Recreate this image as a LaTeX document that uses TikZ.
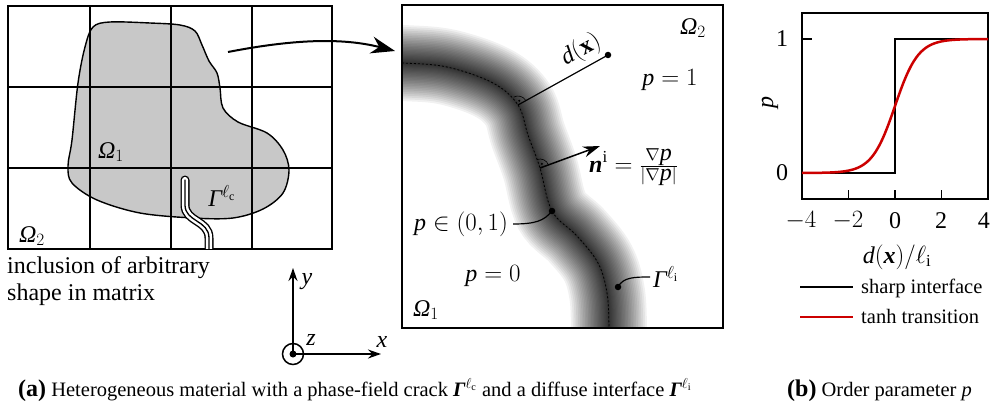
\documentclass[tikz,border=0pt]{standalone}
\usepackage{fontspec}
\setmainfont{Liberation Serif}
\usetikzlibrary{arrows.meta}
\newcommand{\ivar}[1]{\mbox{\itshape #1}}
\newcommand{\bivar}[1]{\mbox{\bfseries\itshape #1}}
\definecolor{blobgray}{RGB}{200,200,200}
\definecolor{plotred}{RGB}{204,0,0}
\begin{document}
\begin{tikzpicture}[x=1pt,y=-1pt,
  lbl/.style={font=\rmfamily\fontsize{24}{27}\selectfont, inner sep=0pt},
  captext/.style={font=\rmfamily\fontsize{20.5}{24}\selectfont, inner sep=0pt},
  gridline/.style={line width=2pt},
  thin connector/.style={line width=1.2pt},
  bigarrow/.style={line width=2pt, -{Stealth[length=24pt,width=17pt]}},
  axisarrow/.style={line width=1.5pt, -{Stealth[length=13pt,width=9pt]}},
  dotmark/.style={fill=black, circle, inner sep=0pt, minimum size=6.5pt},
]
\useasboundingbox (0,0) rectangle (992,409);

% ---------------- left panel ----------------
\def\blob{plot[smooth cycle, tension=0.55] coordinates {(93,27) (110,22) (150,23) (180,25) (195,31) (202,45) (209,61) (217,73) (220,88) (223,108) (238,122) (267,133) (283,150) (289,170) (283,193) (263,209) (233,218) (193,218) (140,213) (97,200) (72,183) (68,166) (72,140) (78,83) (85,47)}}
\fill[blobgray] \blob;
\foreach \gx in {90,171,252} \draw[gridline] (\gx,6) -- (\gx,249);
\foreach \gy in {87,168} \draw[gridline] (8,\gy) -- (332,\gy);
\draw[gridline] (8,6) rectangle (332,249);
\draw[line width=1.4pt] \blob;
% crack
\begin{scope}
\clip (0,0) rectangle (340,248);
\def\crack{(185,180) -- (185,205) .. controls (185,222) and (209,220) .. (209,238) -- (209,262)}
\draw[line width=9pt, line cap=round] \crack;
\draw[line width=6.2pt, white, line cap=round] \crack;
\draw[line width=1.3pt, line cap=round] \crack;
\end{scope}
\node[lbl] (om1) at (111,152) {$\ivar{Ω}_1$};
\node[lbl] (om2) at (32,236) {$\ivar{Ω}_2$};
\node[lbl] (gc) at (222,196) {$\ivar{Γ}^{\ell_{\mathrm{c}}}$};
\node[lbl, anchor=base west] (incl1) at (7,273) {inclusion of arbitrary};
\node[lbl, anchor=base west] (incl2) at (7,300) {shape in matrix};

% curved arrow to zoom
\coordinate (arrS) at (228,52);
\coordinate (arrE) at (395,51);
\draw[bigarrow] (arrS) .. controls (290,40) and (340,37) .. (arrE);

% coordinate axes
\coordinate (O) at (293,354);
\coordinate (Ytip) at (293,268);
\coordinate (Xtip) at (381,354);
\draw[axisarrow] (O) -- (Ytip);
\draw[axisarrow] (O) -- (Xtip);
\draw[line width=1.5pt] (O) circle (10.5pt);
\fill (O) circle (3.5pt);
\node[lbl] (ylab) at (307,282) {\ivar{y}};
\node[lbl] (zlab) at (311,340) {\ivar{z}};
\node[lbl] (xlab) at (382,342) {\ivar{x}};

% ---------------- middle panel ----------------
\def\ipath{plot[smooth, tension=0.6] coordinates {(370,62) (403,63) (447,67) (493,83) (518,105) (528,135) (540,168) (552,211) (577,236) (598,263) (607,293) (609,328) (609,360)}}
\begin{scope}
\clip (402,5) rectangle (723,328);
\foreach \i in {1,...,30} {
  \pgfmathsetmacro\bw{76*(\i/30)^1.5}
  \draw[line width=\bw pt, black, opacity=0.055] \ipath;
}
\draw[line width=0.8pt, dash pattern=on 2pt off 2pt] \ipath;
\end{scope}
\draw[line width=2.5pt] (402,5) rectangle (723,328);

\coordinate (f1) at (518,105);
\coordinate (f2) at (540,168);
\node[dotmark] (dotD) at (608,55) {};
\node[dotmark] (dotA) at (552,211) {};
\node[dotmark] (dotG) at (618,287) {};
\coordinate (nend) at (600,146);

\draw[thin connector] (f1) -- (dotD.center);
\node[lbl, rotate=29] (dx) at (581,50) {$\ivar{d}(\mathbf{x})$};
\draw[line width=0.6pt] (f1) ++(-29:9) arc[start angle=-29, end angle=-119, radius=9];
\fill (f1) ++(-74:4.5) circle (1.1pt);
\draw[line width=1.5pt, -{Stealth[length=17pt,width=11pt]}] (f2) -- (nend);
\draw[line width=0.6pt] (f2) ++(-20:9) arc[start angle=-20, end angle=-110, radius=9];
\fill (f2) ++(-65:4.5) circle (1.1pt);

\node[lbl] (om2m) at (693,28) {$\ivar{Ω}_2$};
\node[lbl] (p1) at (670,80) {$\ivar{p} = 1$};
\node[lbl, anchor=west] (ni) at (589,167) {$\bivar{n}^{\mathrm{i}} = \frac{\nabla \ivar{p}}{|\nabla \ivar{p}|}$};
\node[lbl] (pin) at (461,224) {$\ivar{p} \in (0, 1)$};
\node[lbl] (p0) at (493,276) {$\ivar{p} = 0$};
\node[lbl] (om1m) at (426,310) {$\ivar{Ω}_1$};
\node[lbl, anchor=west] (gi) at (653,277) {$\ivar{Γ}^{\ell_{\mathrm{i}}}$};
\draw[thin connector] ([xshift=5pt]pin.east) .. controls +(22,0) and +(-8,10) .. (dotA.center);
\draw[thin connector] (dotG.center) .. controls +(5,-10) and +(-15,0) .. ([xshift=-3pt]gi.west);

% ---------------- right panel (plot) ----------------
\draw[line width=2pt] (802,13) rectangle (988,199);
\foreach \d in {-2,0,2} \draw[line width=1.5pt] ({895+23.25*\d},199) -- ++(0,-9);
\draw[line width=1.5pt] (802,39) -- ++(10,0);
\draw[line width=1.5pt] (802,173) -- ++(10,0);
\draw[line width=2pt] (802,173) -- (895,173) -- (895,39) -- (988,39);
\draw[plotred, line width=2.5pt] plot[domain=-4:4, samples=121] ({895+23.25*\x}, {173-134*(0.5+0.5*tanh(\x))});
\node[lbl] (tm4) at (801,221) {$-4$};
\node[lbl] (tm2) at (848,221) {$-2$};
\node[lbl] (tz) at (895,221) {0};
\node[lbl] (tp2) at (941,221) {2};
\node[lbl, anchor=east] (tp4) at (990,221) {4};
\node[lbl] (t1) at (782,39) {1};
\node[lbl] (t0) at (782,173) {0};
\node[lbl, rotate=90] (plab) at (770,103) {\ivar{p}};
\node[lbl] (dlab) at (897,257) {$\ivar{d}(\bivar{x})/\ell_{\mathrm{i}}$};
\coordinate (lg1a) at (800,287); \coordinate (lg1b) at (853,287);
\coordinate (lg2a) at (800,317); \coordinate (lg2b) at (853,317);
\draw[line width=2pt] (lg1a) -- (lg1b);
\draw[plotred, line width=2.5pt] (lg2a) -- (lg2b);
\node[captext, anchor=base west] (lgt1) at (861,293) {sharp interface};
\node[captext, anchor=base west] (lgt2) at (861,323) {tanh transition};

% ---------------- captions ----------------
\node[captext, anchor=base west] (capa) at (18,396) {{\fontsize{24}{28}\selectfont\bfseries (a)} Heterogeneous material with a phase-field crack $\bivar{Γ}^{\ell_{\mathrm{c}}}$ and a diffuse interface $\bivar{Γ}^{\ell_{\mathrm{i}}}$};
\node[captext, anchor=base west] (capb) at (787,396) {{\fontsize{24}{28}\selectfont\bfseries (b)} Order parameter \ivar{p}};
\end{tikzpicture}
\end{document}
